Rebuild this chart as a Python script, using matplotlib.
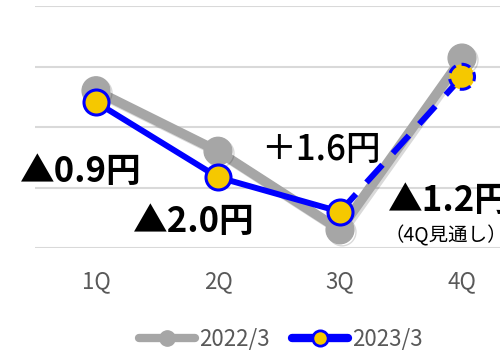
import numpy as np
import matplotlib
matplotlib.use("Agg")
import matplotlib.pyplot as plt
import matplotlib.patheffects as pe
from matplotlib.lines import Line2D

plt.rcParams['font.family'] = ['Noto Sans CJK JP', 'DejaVu Sans']

# data
quarters = ['1Q', '2Q', '3Q', '4Q']
fy2022 = [2.60, 1.60, 0.30, 3.14]
fy2023 = [2.41, 1.17, 0.60, 2.83]
series_names = ['2022/3', '2023/3']

gray = '#a6a6a6'
blue = '#0000ff'
yellow = '#f5c800'
txt = '#595959'

fig = plt.figure(figsize=(5, 3.5), dpi=100)
ax = fig.add_axes([0.07, 0.2914, 0.976, 0.6914])

x = np.arange(len(quarters))

shadow = [pe.SimpleLineShadow(offset=(1.5, -1.5), shadow_color='k', alpha=0.15), pe.Normal()]

# 2022/3 gray line
ax.plot(x, fy2022, color=gray, lw=7, marker='o', ms=20, mfc=gray, mec=gray,
        solid_capstyle='round', zorder=3, clip_on=False, path_effects=shadow)

# 2023/3 blue line, solid for 1Q-3Q, dashed to 4Q forecast
ax.plot(x[2:], fy2023[2:], color=blue, lw=4.3, ls=(0, (4, 2.6)), zorder=4, clip_on=False)
ax.plot(x[:3], fy2023[:3], color=blue, lw=4.3, marker='o', ms=18, mfc=yellow, mec=blue,
        mew=2.2, zorder=5, clip_on=False)
ax.scatter(x[3:], fy2023[3:], s=18**2, facecolor=yellow, edgecolor=blue, linewidths=2.2,
           linestyle=(0, (3, 2)), zorder=6, clip_on=False)

ax.set_xlim(-0.5, 3.5)
ax.set_ylim(0, 4)
ax.set_yticks([0, 1, 2, 3, 4])
ax.set_yticklabels([])
ax.set_xticks(x)
ax.set_xticklabels(quarters, fontsize=16, color=txt)
ax.tick_params(length=0, pad=16)
ax.grid(axis='y', color='#d9d9d9', lw=1.5)
ax.set_axisbelow(True)
for s in ax.spines.values():
    s.set_visible(False)

# annotations
fig.text(0.04, 0.511, '▲0.9円', fontsize=25, fontweight='semibold', va='center')
fig.text(0.266, 0.366, '▲2.0円', fontsize=25, fontweight='semibold', va='center')
fig.text(0.522, 0.571, '＋1.6円', fontsize=25, fontweight='medium', va='center')
fig.text(0.776, 0.426, '▲1.2円', fontsize=25, fontweight='semibold', va='center')
fig.text(0.768, 0.326, '（4Q見通し）', fontsize=14, va='center')

# legend
handles = [
    Line2D([], [], color=gray, lw=6, marker='o', ms=11, mfc=gray, mec=gray, solid_capstyle='round'),
    Line2D([], [], color=blue, lw=6, marker='o', ms=11, mfc=yellow, mec=blue, mew=2, solid_capstyle='round'),
]
fig.legend(handles, series_names, loc='center', bbox_to_anchor=(0.562, 0.03), ncol=2,
           frameon=False, fontsize=16, labelcolor=txt, handlelength=2.5,
           handletextpad=0.2, columnspacing=1.0)

fig.savefig('out.png', dpi=100)
